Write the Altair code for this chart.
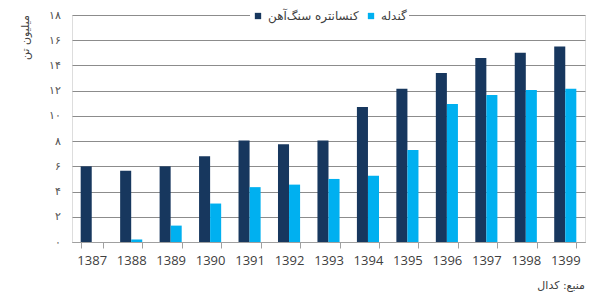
import altair as alt
import pandas as pd

years = ["1387", "1388", "1389", "1390", "1391", "1392", "1393",
         "1394", "1395", "1396", "1397", "1398", "1399"]
concentrate = [6.0, 5.65, 6.0, 6.8, 8.05, 7.75, 8.05, 10.7, 12.15, 13.4, 14.6, 15.0, 15.5]
pellet = [0.0, 0.2, 1.3, 3.05, 4.35, 4.55, 5.0, 5.25, 7.3, 10.95, 11.65, 12.05, 12.15]
series_names = ["کنسانتره سنگ‌آهن", "گندله"]
series_colors = ["#17375E", "#00B0F0"]
y_ticks = [0, 2, 4, 6, 8, 10, 12, 14, 16, 18]
y_tick_labels = ["۰", "۲", "۴", "۶", "۸", "۱۰", "۱۲", "۱۴", "۱۶", "۱۸"]
y_title = "میلیون تن"
source_text = "منبع: کدال"

rows = []
for i, y in enumerate(years):
    rows.append({"year": y, "series": series_names[0], "value": concentrate[i]})
    rows.append({"year": y, "series": series_names[1], "value": pellet[i]})
df = pd.DataFrame(rows)

label_arr = "[" + ",".join("'" + s + "'" for s in y_tick_labels) + "]"

chart = alt.Chart(df).mark_bar().encode(
    x=alt.X("year:N", sort=years, title=None,
            scale=alt.Scale(paddingInner=0.44, paddingOuter=0.22),
            axis=alt.Axis(labelAngle=0, labelFontSize=13, labelColor="#404040",
                          labelFont="Open Sans", labelPadding=6,
                          tickBand="extent", tickSize=6, tickColor="#A0A0A0",
                          domainColor="#A0A0A0", grid=False)),
    xOffset=alt.XOffset("series:N", sort=series_names,
                        scale=alt.Scale(domain=series_names, paddingInner=0, paddingOuter=0)),
    y=alt.Y("value:Q", scale=alt.Scale(domain=[0, 18], nice=False),
            axis=alt.Axis(values=y_ticks, labelExpr=label_arr + "[datum.value/2]",
                          title=y_title, titleFontSize=11, titleFontWeight="normal",
                          titleColor="#404040", titleFont="DejaVu Sans",
                          titleX=-47, titleY=22, titleAlign="center", titleBaseline="middle",
                          labelFontSize=11, labelColor="#505050", labelPadding=12,
                          ticks=False, domain=False, gridColor="#8C8C8C", gridWidth=1)),
    color=alt.Color("series:N", sort=series_names,
                    scale=alt.Scale(domain=series_names, range=series_colors),
                    legend=alt.Legend(title=None, orient="none", direction="horizontal",
                                      legendX=178, legendY=-7, fillColor="white",
                                      padding=2, symbolType="square", symbolSize=40,
                                      symbolStrokeWidth=0, labelFontSize=12,
                                      labelColor="#404040", columnPadding=6,
                                      labelFont="DejaVu Sans")),
).properties(
    width=513, height=227,
    title=alt.TitleParams(text=source_text, orient="bottom", anchor="end",
                          fontSize=11, fontWeight="normal", color="#404040",
                          font="DejaVu Sans", offset=13),
    autosize=alt.AutoSizeParams(type="none"),
    padding={"left": 72, "top": 15, "right": 15, "bottom": 56},
).configure_view(stroke=None).configure(background="white")

chart.save("out.html", embed_options={"renderer": "svg", "actions": False})
